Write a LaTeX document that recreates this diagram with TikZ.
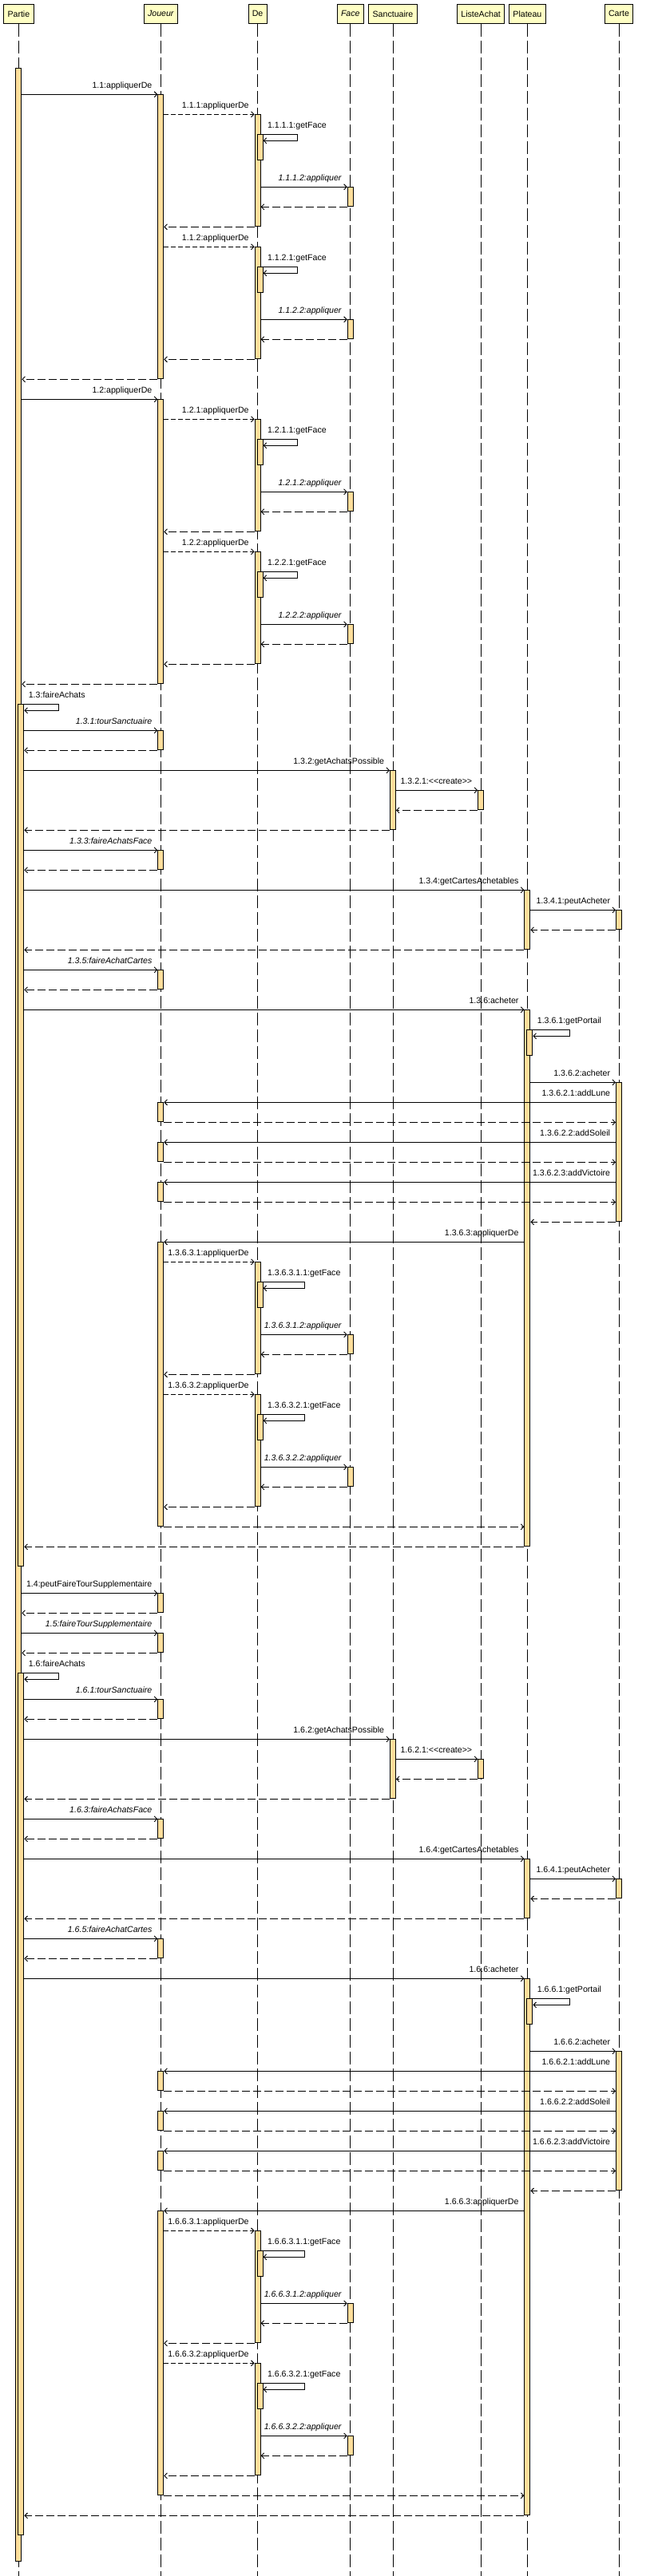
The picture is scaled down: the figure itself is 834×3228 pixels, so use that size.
\documentclass[tikz,border=0pt]{standalone}
\usepackage{fontspec}
\newfontfamily\diagfont{Liberation Sans}
\usetikzlibrary{arrows.meta,calc}

\definecolor{headfill}{RGB}{255,255,196}
\definecolor{actfill}{RGB}{255,222,155}

\tikzset{
  obj/.style={draw, fill=headfill, line width=1pt, font=\diagfont\fontsize{10.6}{12}\selectfont, minimum height=24pt, inner xsep=4.8pt, inner ysep=0pt},
  lifeline/.style={line width=0.9pt, dash pattern=on 16pt off 5pt},
  actbar/.style={draw, fill=actfill, line width=1pt, minimum width=7pt, inner sep=0pt},
  call/.style={line width=0.9pt, -{Straight Barb[length=3.5pt,width=7pt]}},
  dcall/.style={call, dash pattern=on 6pt off 3pt},
  ret/.style={call, dash pattern=on 10pt off 4pt},
  lbl/.style={font=\diagfont\fontsize{10.6}{12}\selectfont, inner sep=0pt, anchor=base east}
}

\newcommand{\activ}[5]{\node[actbar, minimum height={((#4)-(#3))*1pt}, anchor=north] (#1) at ($(#2 |- 0,#3)+(#5,0)$) {};}
\newcommand{\msgR}[5][call]{\draw[#1] (#2.east |- 0,#4) -- (#3.west |- 0,#4) node[lbl, pos=1, xshift=-6.5pt, yshift=8.3pt] {#5};}
\newcommand{\msgL}[5][call]{\draw[#1] (#2.west |- 0,#4) -- (#3.east |- 0,#4) node[lbl, pos=0, xshift=-6.5pt, yshift=8.3pt] {#5};}
\newcommand{\retL}[3]{\draw[ret] (#1.west |- 0,#3) -- (#2.east |- 0,#3);}
\newcommand{\retR}[3]{\draw[ret] (#1.east |- 0,#3) -- (#2.west |- 0,#3);}
\newcommand{\selfmsg}[5]{\draw[call] (#1.east |- 0,#3) node[lbl, anchor=base west, xshift=8pt, yshift=8.3pt] {#5} -- ++(#4,0) -- ++(0,8) -- (#2.east |- 0,#3+8);}

\newcommand{\appliquerBlock}[5]{%
  \activ{d#5}{de}{#2}{#2+140}{0}
  \activ{dd#5}{de}{#2+25}{#2+57}{3}
  \activ{f#5}{face}{#2+91}{#2+115}{0}
  \msgR[dcall]{#3}{d#5}{#2}{#1:appliquerDe}
  \selfmsg{d#5}{dd#5}{#2+25}{#4}{#1.1:getFace}
  \msgR{d#5}{f#5}{#2+91}{\textit{#1.2:appliquer}}
  \retL{f#5}{d#5}{#2+116}
  \retL{d#5}{#3}{#2+141}}

\newcommand{\achats}[2]{%
  \activ{pa#1}{partie}{#2}{#2+1080}{3}
  \selfmsg{p0}{pa#1}{#2}{46}{1.#1:faireAchats}
  \activ{jt#1}{joueur}{#2+33}{#2+57}{0}
  \msgR{pa#1}{jt#1}{#2+33}{\textit{1.#1.1:tourSanctuaire}}
  \retL{jt#1}{pa#1}{#2+58}
  \activ{s#1}{sanct}{#2+83}{#2+157}{0}
  \msgR{pa#1}{s#1}{#2+83}{1.#1.2:getAchatsPossible}
  \activ{l#1}{liste}{#2+108}{#2+132}{0}
  \msgR{s#1}{l#1}{#2+108}{1.#1.2.1:<<create>>}
  \retL{l#1}{s#1}{#2+133}
  \retL{s#1}{pa#1}{#2+158}
  \activ{jf#1}{joueur}{#2+183}{#2+207}{0}
  \msgR{pa#1}{jf#1}{#2+183}{\textit{1.#1.3:faireAchatsFace}}
  \retL{jf#1}{pa#1}{#2+208}
  \activ{pc#1}{plateau}{#2+233}{#2+307}{0}
  \msgR{pa#1}{pc#1}{#2+233}{1.#1.4:getCartesAchetables}
  \activ{c#1}{carte}{#2+258}{#2+282}{0}
  \msgR{pc#1}{c#1}{#2+258}{1.#1.4.1:peutAcheter}
  \retL{c#1}{pc#1}{#2+283}
  \retL{pc#1}{pa#1}{#2+308}
  \activ{jc#1}{joueur}{#2+333}{#2+357}{0}
  \msgR{pa#1}{jc#1}{#2+333}{\textit{1.#1.5:faireAchatCartes}}
  \retL{jc#1}{pa#1}{#2+358}
  \activ{pl#1}{plateau}{#2+383}{#2+1055}{0}
  \msgR{pa#1}{pl#1}{#2+383}{1.#1.6:acheter}
  \activ{pp#1}{plateau}{#2+408}{#2+440}{3}
  \selfmsg{pl#1}{pp#1}{#2+408}{49}{1.#1.6.1:getPortail}
  \activ{ca#1}{carte}{#2+474}{#2+648}{0}
  \msgR{pl#1}{ca#1}{#2+474}{1.#1.6.2:acheter}
  \activ{jl#1}{joueur}{#2+499}{#2+523}{0}
  \msgL{ca#1}{jl#1}{#2+499}{1.#1.6.2.1:addLune}
  \retR{jl#1}{ca#1}{#2+524}
  \activ{js#1}{joueur}{#2+549}{#2+573}{0}
  \msgL{ca#1}{js#1}{#2+549}{1.#1.6.2.2:addSoleil}
  \retR{js#1}{ca#1}{#2+574}
  \activ{jv#1}{joueur}{#2+599}{#2+623}{0}
  \msgL{ca#1}{jv#1}{#2+599}{1.#1.6.2.3:addVictoire}
  \retR{jv#1}{ca#1}{#2+624}
  \retL{ca#1}{pl#1}{#2+649}
  \activ{ja#1}{joueur}{#2+674}{#2+1030}{0}
  \msgL{pl#1}{ja#1}{#2+674}{1.#1.6.3:appliquerDe}
  \appliquerBlock{1.#1.6.3.1}{#2+699}{ja#1}{55}{x#1}
  \appliquerBlock{1.#1.6.3.2}{#2+865}{ja#1}{55}{y#1}
  \retR{ja#1}{pl#1}{#2+1031}
  \retL{pl#1}{pa#1}{#2+1056}}

\begin{document}
\begin{tikzpicture}[x=1pt, y=-1pt]
\useasboundingbox[fill=white] (0,0) rectangle (834,3228);

\node[obj] (partie) at (23.4,17.3) {Partie};
\node[obj] (joueur) at (201.3,17.3) {\itshape Joueur};
\node[obj] (de) at (322.6,17.3) {De};
\node[obj] (face) at (438.8,17.3) {\itshape Face};
\node[obj] (sanct) at (492,17.3) {Sanctuaire};
\node[obj] (liste) at (602.1,17.3) {ListeAchat};
\node[obj] (plateau) at (660.4,17.3) {Plateau};
\node[obj] (carte) at (775,17.3) {Carte};
\foreach \o in {partie,joueur,de,face,sanct,liste,plateau,carte}
  \draw[lifeline] (\o.south) -- (\o.south |- 0,3228);

\activ{p0}{partie}{85.3}{3209.3}{0}

\activ{j11}{joueur}{118.3}{474.3}{0}
\msgR{p0}{j11}{118.3}{1.1:appliquerDe}
\appliquerBlock{1.1.1}{143.3}{j11}{46}{a}
\appliquerBlock{1.1.2}{309.3}{j11}{46}{b}
\retL{j11}{p0}{475.3}

\activ{j12}{joueur}{500.3}{856.3}{0}
\msgR{p0}{j12}{500.3}{1.2:appliquerDe}
\appliquerBlock{1.2.1}{525.3}{j12}{46}{c}
\appliquerBlock{1.2.2}{691.3}{j12}{46}{e}
\retL{j12}{p0}{857.3}

\achats{3}{882.3}

\activ{j14}{joueur}{1996.3}{2020.3}{0}
\msgR{p0}{j14}{1996.3}{1.4:peutFaireTourSupplementaire}
\retL{j14}{p0}{2021.3}
\activ{j15}{joueur}{2046.3}{2070.3}{0}
\msgR{p0}{j15}{2046.3}{\textit{1.5:faireTourSupplementaire}}
\retL{j15}{p0}{2071.3}

\achats{6}{2096.3}
\end{tikzpicture}
\end{document}
